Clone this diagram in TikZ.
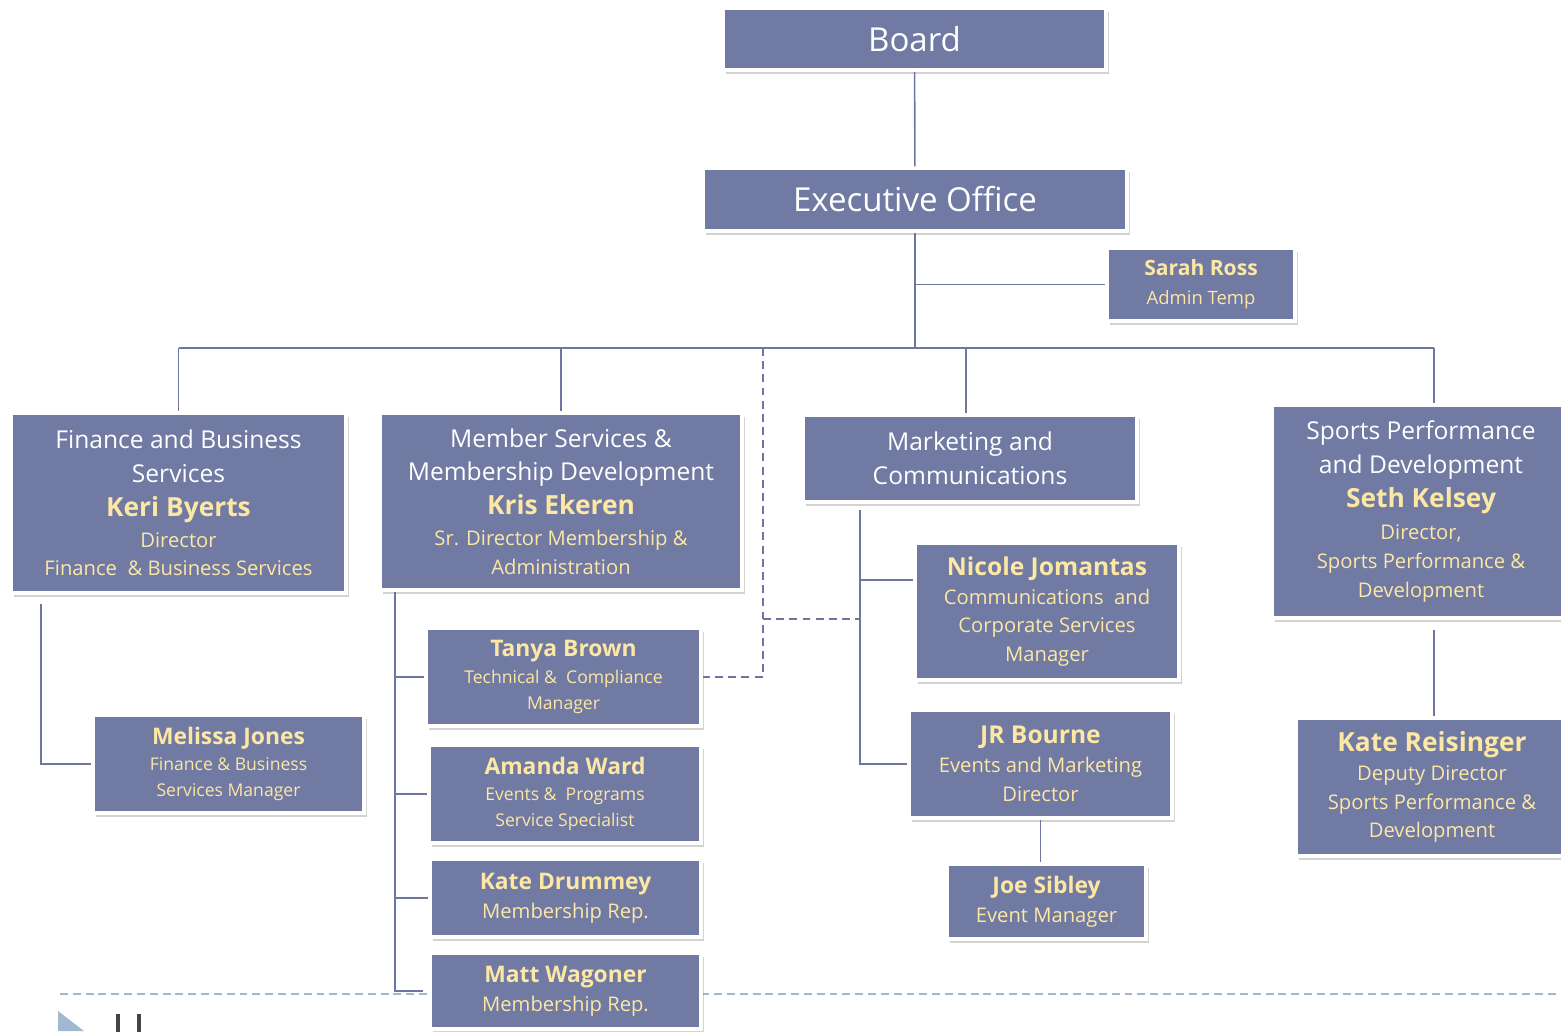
\documentclass[tikz,border=0pt]{standalone}
\usepackage{fontspec}
\setmainfont{Open Sans}
\usepackage{xcolor}
\usepackage{tikz}
\usetikzlibrary{shadows}

\definecolor{boxblue}{RGB}{112,122,162}
\definecolor{nameyellow}{RGB}{253,231,164}
\definecolor{linkblue}{RGB}{110,118,160}
\definecolor{footblue}{RGB}{160,184,208}
\definecolor{footgray}{RGB}{68,68,78}

\newcommand{\dhead}[1]{{\fontsize{14}{16.4}\selectfont #1}}
\newcommand{\pname}[2][15]{{\fontsize{#1}{16.4}\selectfont\bfseries\color{nameyellow}#2}}
\newcommand{\ptitle}[2][11.5]{{\fontsize{#1}{16.4}\selectfont\color{nameyellow}#2}}

\tikzstyle{orgbox} = [rectangle, fill=boxblue, draw=white, line width=2pt, text=white, align=center, inner sep=1pt, drop shadow={shadow xshift=1.5pt, shadow yshift=-2.2pt, opacity=0.35}, font=\fontsize{11.5}{16.4}\selectfont]
\tikzstyle{smallbox} = [orgbox, font=\fontsize{10}{15}\selectfont]
\tikzstyle{orgline} = [draw=linkblue, line width=0.9pt]
\tikzstyle{dashlink} = [orgline, dash pattern=on 4.5pt off 3pt]

\begin{document}
\begin{tikzpicture}[x=0.02cm, y=-0.02cm]
\useasboundingbox (0,0) rectangle (1561,1031);

% ---------------------------------------------
% footer
% ---------------------------------------------
\draw [footblue, line width=1.2pt, dash pattern=on 4.5pt off 2.8pt] (60,994) -- (1561,994);
\fill [footblue] (58,1011) -- (84,1031) -- (58,1031) -- cycle;
\draw [footgray, line width=2.4pt] (118,1014) -- (118,1032);
\draw [footgray, line width=2.4pt] (139,1014) -- (139,1032);

% ---------------------------------------------
% top
% ---------------------------------------------
                \node (board) [orgbox, minimum width=7.66cm, minimum height=1.24cm, font=\fontsize{18.8}{24}\selectfont] at (914.5,39) {Board};
                \node (exec) [orgbox, minimum width=8.48cm, minimum height=1.26cm, font=\fontsize{18.8}{24}\selectfont] at (915,199.5) {Executive Office};
                \node (sarah) [orgbox, minimum width=3.76cm, minimum height=1.46cm, text depth=0.1cm] at (1201,284.5) {\pname[12]{Sarah Ross}\\ \ptitle[10.5]{Admin Temp}};

% ---------------------------------------------
% departments
% ---------------------------------------------
                \node (finance) [orgbox, minimum width=6.70cm, minimum height=3.60cm] at (178.5,503) {\dhead{Finance and Business}\\[2.8pt] \dhead{Services}\\[2.8pt] \pname{Keri Byerts}\\[1.2pt] \ptitle{Director}\\ \ptitle{Finance \ \& Business Services}};

                \node (member) [orgbox, minimum width=7.24cm, minimum height=3.54cm] at (561,501.5) {\dhead{Member Services \&}\\[2.8pt] \dhead{Membership Development}\\[2.8pt] \pname{Kris Ekeren}\\[1.2pt] \ptitle{Sr. Director Membership \&}\\ \ptitle{Administration}};

                \node (market) [orgbox, minimum width=6.68cm, minimum height=1.74cm] at (970,458.5) {\dhead{Marketing and}\\[2.8pt] \dhead{Communications}};

                \node (sports) [orgbox, minimum width=5.96cm, minimum height=4.26cm] at (1421,511.5) {\dhead{Sports Performance}\\[2.8pt] \dhead{and Development}\\[2.8pt] \pname{Seth Kelsey}\\[1.8pt] \ptitle{Director,}\\ \ptitle{Sports Performance \&}\\ \ptitle{Development}};

% ---------------------------------------------
% staff
% ---------------------------------------------
                \node (melissa) [smallbox, minimum width=5.42cm, minimum height=1.96cm] at (228.5,764) {\pname[13]{Melissa Jones}\\ \ptitle[10]{Finance \& Business}\\ \ptitle[10]{Services Manager}};

                \node (tanya) [smallbox, minimum width=5.50cm, minimum height=1.96cm] at (563.5,677) {\pname[13]{Tanya Brown}\\ \ptitle[10]{Technical \& \ Compliance}\\ \ptitle[10]{Manager}};
                \node (amanda) [smallbox, minimum width=5.44cm, minimum height=1.96cm] at (565,794) {\pname[13]{Amanda Ward}\\ \ptitle[10]{Events \& \ Programs}\\ \ptitle[10]{Service Specialist}};
                \node (drummey) [orgbox, minimum width=5.42cm, minimum height=1.56cm] at (565.5,898) {\pname[13]{Kate Drummey}\\ \ptitle{Membership Rep.}};
                \node (matt) [orgbox, minimum width=5.42cm, minimum height=1.52cm] at (565.5,991) {\pname[13]{Matt Wagoner}\\ \ptitle{Membership Rep.}};

                \node (nicole) [orgbox, minimum width=5.28cm, minimum height=2.74cm] at (1047,611.5) {\pname[14]{Nicole Jomantas}\\ \ptitle{Communications \ and}\\ \ptitle{Corporate Services}\\ \ptitle{Manager}};
                \node (jr) [orgbox, minimum width=5.26cm, minimum height=2.16cm] at (1040.5,764) {\pname[14]{JR Bourne}\\ \ptitle{Events and Marketing}\\ \ptitle{Director}};
                \node (joe) [orgbox, minimum width=3.98cm, minimum height=1.50cm] at (1046.5,901.5) {\pname[13]{Joe Sibley}\\ \ptitle{Event Manager}};

                \node (kater) [orgbox, minimum width=5.44cm, minimum height=2.76cm] at (1432,787) {\pname{Kate Reisinger}\\ \ptitle{Deputy Director}\\ \ptitle{Sports Performance \&}\\ \ptitle{Development}};

% ---------------------------------------------
% connectors
% ---------------------------------------------
                \coordinate (bus) at (915,348);
                \coordinate (dashtop) at (763,348);
                \coordinate (dashmid) at (763,619);
                \coordinate (finspine) at (41,604);
                \coordinate (memspine) at (395,592);
                \coordinate (mktspine) at (860,510);
                \coordinate (nicolebranch) at (860,580);
                \coordinate (mkttop) at (966,348);
                \coordinate (spttop) at (1434,348);
                \coordinate (spttail) at (1434,630);

                \draw [orgline] (board) -- (exec);
                \draw [orgline] (exec) -- (bus);
                \draw [orgline] (exec.south |- sarah.west) -- (sarah.west);
                \draw [orgline] (finance.north |- bus) -- (spttop);
                \draw [orgline] (finance.north |- bus) -- (finance.north);
                \draw [orgline] (member.north |- bus) -- (member.north);
                \draw [orgline] (mkttop) -- (mkttop |- market.north);
                \draw [orgline] (spttop) -- (spttop |- sports.north);

                % dashed
                \draw [dashlink] (dashtop) |- (tanya.east);
                \draw [dashlink] (dashmid) -- (dashmid -| mktspine);

                % finance
                \draw [orgline] (finspine) |- (melissa.west);

                % member services
                \draw [orgline] (memspine) |- ([xshift=-0.1cm]matt.west);
                \draw [orgline] (memspine |- tanya.west) -- (tanya.west);
                \draw [orgline] (memspine |- amanda.west) -- (amanda.west);
                \draw [orgline] (memspine |- drummey.west) -- (drummey.west);

                % marketing
                \draw [orgline] (mktspine) |- (jr.west);
                \draw [orgline] (nicolebranch) -- (nicolebranch -| nicole.west);
                \draw [orgline] (jr.south) -- (jr.south |- joe.north);

                % sports
                \draw [orgline] (spttail) -- (spttail |- kater.north);

\end{tikzpicture}
\end{document}
